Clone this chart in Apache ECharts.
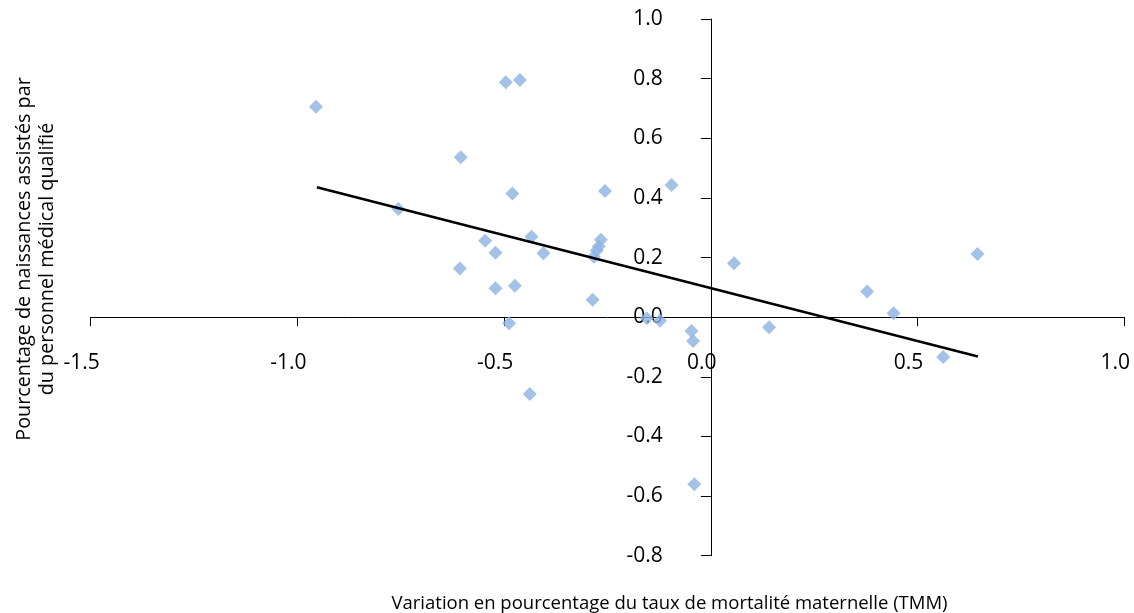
<!DOCTYPE html>
<html>
<head>
<meta charset="utf-8">
<script src="https://cdn.jsdelivr.net/npm/echarts@6/dist/echarts.min.js"></script>
<style>
  html, body { margin: 0; padding: 0; background: #fff; }
  #chart { width: 1134px; height: 613px; }
</style>
</head>
<body>
<div id="chart"></div>
<script>
// Change in maternal mortality ratio (x) vs. change in skilled birth attendance (y)
const xValues = [
  -0.955, -0.496, -0.462, -0.605, -0.480, -0.756, -0.256, -0.095,
  -0.546, -0.434, -0.521, -0.405, -0.607, -0.521, -0.474, -0.286,
  -0.266, -0.271, -0.276, -0.283, -0.488, -0.155, -0.123, -0.047,
  -0.043, 0.056, 0.141, 0.378, 0.442, 0.562, 0.645, -0.438, -0.040
];
const yValues = [
  0.706, 0.788, 0.795, 0.536, 0.415, 0.363, 0.423, 0.443,
  0.256, 0.270, 0.216, 0.214, 0.163, 0.097, 0.105, 0.058,
  0.260, 0.237, 0.224, 0.203, -0.020, -0.004, -0.012, -0.046,
  -0.080, 0.181, -0.034, 0.086, 0.013, -0.134, 0.212, -0.258, -0.560
];
// Linear trend line end points
const trendX = [-0.953, 0.646];
const trendY = [0.436, -0.132];

const xTitle = 'Variation en pourcentage du taux de mortalité maternelle (TMM)';
const yTitleLines = ['Pourcentage de naissances assistés par', 'du personnel médical qualifié'];

const FONT = '"Open Sans", sans-serif';

// Plot area and axis ranges
const GRID = { left: 90.7, top: 19, width: 1033.6, height: 536.7 };
const X_MIN = -1.5, X_MAX = 1.0, Y_MIN = -0.8, Y_MAX = 1.0;

// Axes cross at the origin: shift each axis from the plot edge to the zero line
const xAxisOffset = -GRID.height * (0 - Y_MIN) / (Y_MAX - Y_MIN);
const yAxisOffset = -GRID.width * (0 - X_MIN) / (X_MAX - X_MIN);

const points = xValues.map((x, i) => [x, yValues[i]]);
const trend = trendX.map((x, i) => [x, trendY[i]]);

const chart = echarts.init(document.getElementById('chart'), null, { renderer: 'canvas' });

chart.setOption({
  animation: false,
  backgroundColor: '#ffffff',
  textStyle: { fontFamily: FONT },
  grid: Object.assign({ containLabel: false, outerBoundsMode: 'none' }, GRID),
  xAxis: {
    type: 'value',
    position: 'bottom',
    offset: xAxisOffset,
    min: X_MIN, max: X_MAX, interval: 0.5,
    axisLine: { show: true, onZero: false, lineStyle: { color: '#000', width: 1 } },
    axisTick: { show: true, inside: false, length: 9, lineStyle: { color: '#000', width: 1 } },
    splitLine: { show: false },
    axisLabel: {
      margin: 35, color: '#000', fontSize: 21, fontFamily: FONT,
      padding: [0, 18, 0, 0],
      showMinLabel: true, showMaxLabel: true, hideOverlap: false,
      formatter: v => v.toFixed(1)
    }
  },
  yAxis: {
    type: 'value',
    position: 'left',
    offset: yAxisOffset,
    min: Y_MIN, max: Y_MAX, interval: 0.2,
    axisLine: { show: true, onZero: false, lineStyle: { color: '#000', width: 1 } },
    axisTick: { show: true, inside: false, length: 10, lineStyle: { color: '#000', width: 1 } },
    splitLine: { show: false },
    axisLabel: {
      margin: 48, color: '#000', fontSize: 21, fontFamily: FONT,
      padding: [10, 0, 0, 0],
      showMinLabel: true, showMaxLabel: true, hideOverlap: false,
      formatter: v => v.toFixed(1)
    }
  },
  series: [
    {
      type: 'scatter',
      data: points,
      symbol: 'diamond',
      symbolSize: 14,
      itemStyle: { color: '#8db3e2' },
      z: 2
    },
    {
      type: 'line',
      data: trend,
      showSymbol: false,
      symbol: 'none',
      lineStyle: { color: '#000', width: 2.5 },
      z: 3
    }
  ],
  graphic: [
    {
      type: 'text',
      x: 669.5,
      y: 604,
      style: {
        text: xTitle, font: '18.5px ' + FONT, fill: '#000',
        align: 'center', verticalAlign: 'middle'
      }
    },
    {
      type: 'text',
      x: 36,
      y: 259,
      rotation: Math.PI / 2,
      style: {
        text: yTitleLines.join('\n'),
        font: '19.8px ' + FONT,
        fill: '#000',
        align: 'center',
        verticalAlign: 'middle',
        lineHeight: 23
      }
    }
  ]
});
</script>
</body>
</html>
